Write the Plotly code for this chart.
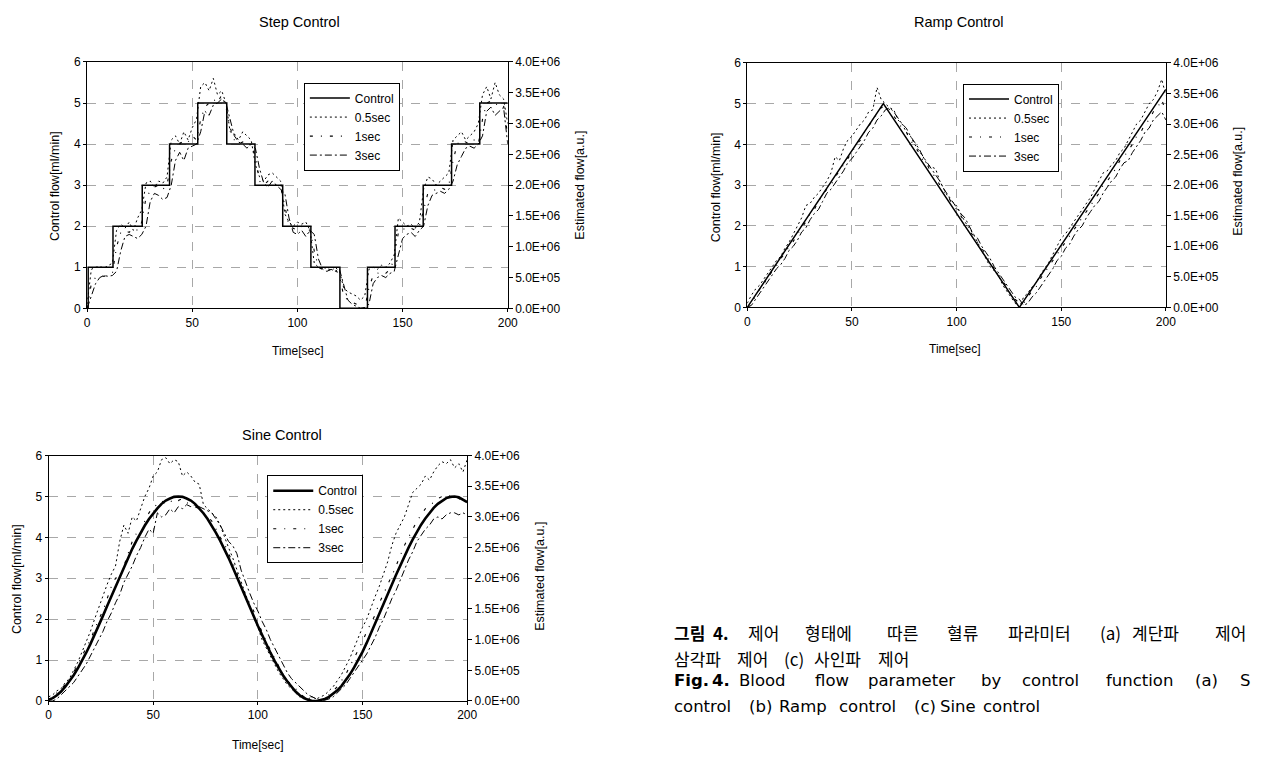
import plotly.graph_objects as go

# ---------------- data ----------------
T = list(range(0, 201, 2))  # time samples [sec] of the estimated series

# Step control
step_ctrl_t = [0, 0.5, 12.3, 26.2, 39.2, 52.6, 66.4, 79.8, 93.0, 106.4, 120.2, 133.3, 146.4, 159.8, 173.3, 186.7, 200]
step_ctrl_v = [0, 1, 2, 3, 4, 5, 4, 3, 2, 1, 0, 1, 2, 3, 4, 5, 5]
step_05 = [0.1, 0.95, 1.0, 1.02, 0.98, 1.05, 1.1, 1.9, 2.05, 1.95,
           2.1, 1.9, 2.2, 2.4, 3.05, 3.1, 2.95, 3.1, 3.05, 3.2,
           4.1, 4.2, 4.0, 4.3, 4.1, 4.4, 4.6, 5.4, 5.5, 5.3,
           5.6, 5.2, 5.3, 5.0, 4.3, 4.25, 4.1, 4.3, 4.2, 4.1,
           3.5, 3.2, 3.1, 3.25, 3.3, 3.2, 3.1, 2.3, 2.1, 2.0,
           2.1, 2.05, 2.1, 1.9, 1.1, 1.0, 0.95, 1.0, 0.9, 1.0,
           0.9, 0.5, 0.4, 0.35, 0.3, 0.2, 0.3, 0.95, 1.0, 0.95,
           1.05, 1.0, 1.1, 1.3, 2.2, 2.1, 2.0, 2.05, 1.95, 2.1,
           2.9, 3.2, 3.15, 3.0, 3.1, 3.2, 3.3, 4.1, 4.2, 4.3,
           4.1, 4.2, 4.3, 4.5, 5.2, 5.4, 5.1, 5.5, 5.2, 5.1,
           4.5]
step_1 = [0.0, 0.6, 0.75, 0.8, 0.78, 0.82, 0.85, 1.5, 1.85, 1.9,
          1.85, 1.95, 1.9, 2.1, 2.7, 2.85, 2.95, 3.0, 2.9, 3.0,
          3.6, 3.9, 4.0, 4.1, 4.05, 4.2, 4.1, 4.6, 4.9, 5.0,
          5.1, 5.0, 5.2, 4.9, 4.4, 4.1, 4.0, 4.05, 3.95, 4.0,
          3.7, 3.1, 3.0, 3.1, 3.05, 3.0, 2.95, 2.5, 2.0, 1.95,
          1.9, 2.0, 1.95, 1.9, 1.4, 1.0, 0.95, 0.9, 1.0, 0.95,
          0.8, 0.3, 0.2, 0.15, 0.1, 0.05, 0.0, 0.5, 0.8, 0.85,
          0.9, 0.85, 0.95, 1.2, 1.85, 1.95, 1.9, 1.95, 1.9, 2.0,
          2.4, 2.8, 2.85, 2.9, 2.95, 2.9, 3.0, 3.6, 4.0, 4.1,
          4.05, 4.0, 4.1, 4.0, 4.6, 5.0, 5.05, 4.95, 5.0, 4.95,
          4.2]
step_3 = [0.0, 0.3, 0.6, 0.75, 0.8, 0.78, 0.8, 0.9, 1.4, 1.75,
          1.8, 1.75, 1.7, 1.8, 2.0, 2.6, 2.8, 2.75, 2.65, 2.7,
          3.0, 3.6, 3.8, 3.6, 3.9, 3.95, 4.0, 4.3, 4.8, 4.7,
          4.95, 5.0, 5.1, 5.0, 4.6, 4.2, 4.05, 4.0, 3.9, 4.0,
          3.9, 3.4, 3.05, 2.95, 3.1, 3.0, 2.9, 2.8, 2.2, 1.85,
          1.8, 1.9, 1.75, 1.9, 1.8, 1.2, 0.95, 0.9, 0.95, 0.9,
          0.95, 0.6, 0.2, 0.1, 0.05, 0.0, 0.02, 0.1, 0.6, 0.75,
          0.8, 0.75, 0.85, 0.9, 1.3, 1.7, 1.8, 1.85, 1.75, 1.9,
          2.0, 2.5, 2.75, 2.8, 2.85, 2.8, 2.9, 3.1, 3.5, 3.7,
          3.9, 3.95, 3.9, 4.0, 4.2, 4.8, 4.9, 4.7, 4.8, 4.9,
          4.0]

# Ramp control
ramp_ctrl_t = [0, 65, 130, 200]
ramp_ctrl_v = [0, 5, 0, 5.35]
ramp_05 = [0.1, 0.3, 0.45, 0.55, 0.7, 0.85, 1.0, 1.15, 1.25, 1.45,
           1.6, 1.8, 2.0, 2.2, 2.5, 2.55, 2.7, 2.8, 2.95, 3.1,
           3.3, 3.7, 3.6, 3.9, 4.1, 4.2, 4.35, 4.5, 4.6, 4.8,
           4.85, 5.4, 5.1, 5.0, 4.9, 4.85, 4.6, 4.5, 4.3, 4.2,
           4.0, 3.85, 3.7, 3.5, 3.45, 3.4, 3.1, 2.9, 2.7, 2.6,
           2.5, 2.3, 2.1, 1.95, 1.8, 1.6, 1.4, 1.2, 1.0, 0.9,
           0.8, 0.55, 0.4, 0.25, 0.1, 0.0, 0.25, 0.35, 0.5, 0.6,
           0.8, 0.95, 1.1, 1.3, 1.5, 1.7, 1.8, 1.95, 2.1, 2.25,
           2.4, 2.55, 2.7, 2.9, 3.1, 3.3, 3.35, 3.5, 3.6, 3.8,
           3.9, 4.1, 4.3, 4.5, 4.6, 4.8, 5.0, 5.1, 5.3, 5.6,
           5.2]
ramp_1 = [0.0, 0.12, 0.28, 0.45, 0.58, 0.72, 0.9, 1.02, 1.2, 1.32,
          1.5, 1.62, 1.8, 1.95, 2.1, 2.3, 2.4, 2.6, 2.75, 2.9,
          3.0, 3.2, 3.35, 3.5, 3.65, 3.8, 4.0, 4.1, 4.3, 4.45,
          4.6, 4.75, 4.9, 4.95, 4.85, 4.7, 4.55, 4.4, 4.3, 4.1,
          3.95, 3.8, 3.6, 3.5, 3.3, 3.2, 3.0, 2.85, 2.7, 2.55,
          2.4, 2.25, 2.1, 1.9, 1.75, 1.6, 1.45, 1.3, 1.1, 0.95,
          0.8, 0.65, 0.5, 0.3, 0.2, 0.1, 0.1, 0.25, 0.4, 0.5,
          0.7, 0.85, 1.0, 1.15, 1.3, 1.45, 1.6, 1.75, 1.9, 2.05,
          2.2, 2.35, 2.5, 2.65, 2.8, 3.0, 3.1, 3.25, 3.4, 3.6,
          3.7, 3.85, 4.0, 4.2, 4.3, 4.5, 4.6, 4.8, 4.9, 5.1,
          4.8]
ramp_3 = [0.0, 0.05, 0.2, 0.35, 0.5, 0.62, 0.8, 0.95, 1.05, 1.2,
          1.4, 1.5, 1.65, 1.85, 1.95, 2.15, 2.3, 2.4, 2.6, 2.8,
          2.9, 3.05, 3.2, 3.35, 3.55, 3.65, 3.8, 3.95, 4.1, 4.3,
          4.4, 4.6, 4.7, 4.85, 4.9, 4.8, 4.65, 4.5, 4.4, 4.2,
          4.05, 3.9, 3.7, 3.55, 3.4, 3.25, 3.1, 2.9, 2.75, 2.6,
          2.45, 2.3, 2.2, 2.0, 1.8, 1.7, 1.5, 1.35, 1.2, 1.0,
          0.85, 0.7, 0.55, 0.4, 0.25, 0.2, 0.05, 0.1, 0.25, 0.35,
          0.5, 0.65, 0.8, 0.95, 1.15, 1.25, 1.45, 1.55, 1.75, 1.9,
          2.0, 2.2, 2.35, 2.5, 2.6, 2.8, 2.95, 3.1, 3.2, 3.4,
          3.55, 3.6, 3.8, 3.95, 4.1, 4.3, 4.4, 4.6, 4.7, 4.8,
          4.6]

# Sine control
sine_ctrl = [0.03, 0.07, 0.14, 0.23, 0.35, 0.48, 0.63, 0.8, 0.98, 1.18,
             1.39, 1.61, 1.84, 2.08, 2.32, 2.56, 2.8, 3.04, 3.27, 3.5,
             3.72, 3.92, 4.11, 4.29, 4.45, 4.59, 4.71, 4.82, 4.9, 4.95,
             4.99, 5.0, 4.99, 4.95, 4.9, 4.82, 4.71, 4.59, 4.45, 4.29,
             4.11, 3.92, 3.72, 3.5, 3.27, 3.04, 2.8, 2.56, 2.32, 2.08,
             1.84, 1.61, 1.39, 1.18, 0.98, 0.8, 0.63, 0.48, 0.35, 0.23,
             0.14, 0.07, 0.03, 0.0, 0.0, 0.02, 0.05, 0.1, 0.17, 0.26,
             0.37, 0.5, 0.65, 0.82, 1.0, 1.2, 1.42, 1.65, 1.88, 2.12,
             2.36, 2.6, 2.84, 3.08, 3.31, 3.54, 3.75, 3.95, 4.14, 4.31,
             4.46, 4.6, 4.72, 4.82, 4.9, 4.96, 4.99, 5.0, 4.98, 4.93,
             4.86]
sine_05 = [0.1, 0.15, 0.25, 0.3, 0.45, 0.55, 0.75, 0.95, 1.2, 1.45,
           1.7, 2.0, 2.3, 2.6, 2.85, 3.1, 3.3, 3.9, 4.3, 4.1,
           4.5, 4.4, 4.7, 5.0, 5.2, 5.5, 5.6, 5.9, 5.95, 5.8,
           5.9, 5.85, 5.5, 5.6, 5.5, 5.35, 5.3, 4.8, 4.7, 4.6,
           4.5, 4.3, 4.0, 3.75, 3.5, 3.2, 2.9, 2.6, 2.3, 2.05,
           1.8, 1.5, 1.3, 1.1, 0.9, 0.7, 0.55, 0.4, 0.3, 0.2,
           0.1, 0.1, 0.05, 0.1, 0.05, 0.1, 0.15, 0.25, 0.35, 0.5,
           0.65, 0.85, 1.05, 1.3, 1.55, 1.8, 2.0, 2.3, 2.55, 2.8,
           3.1, 3.4, 3.8, 4.1, 4.3, 4.5, 4.8, 5.1, 5.2, 5.3,
           5.5, 5.4, 5.6, 5.75, 5.85, 5.8, 5.9, 5.7, 5.8, 5.6,
           5.9]
sine_1 = [0.0, 0.1, 0.2, 0.3, 0.4, 0.5, 0.7, 0.9, 1.1, 1.3,
          1.5, 1.75, 2.0, 2.2, 2.5, 2.8, 3.0, 3.05, 3.3, 3.6,
          3.9, 4.1, 4.05, 4.4, 4.6, 4.75, 4.8, 4.9, 4.8, 4.85,
          4.95, 4.9, 4.95, 4.85, 4.8, 4.75, 4.7, 4.6, 4.5, 4.4,
          4.2, 4.0, 3.85, 3.6, 3.4, 3.1, 2.85, 2.6, 2.4, 2.2,
          1.9, 1.7, 1.45, 1.25, 1.05, 0.85, 0.65, 0.5, 0.4, 0.3,
          0.2, 0.1, 0.05, 0.1, 0.05, 0.0, 0.1, 0.15, 0.25, 0.35,
          0.5, 0.65, 0.85, 1.05, 1.25, 1.45, 1.7, 1.9, 2.1, 2.4,
          2.6, 2.85, 3.05, 3.3, 3.55, 3.8, 4.0, 4.2, 4.4, 4.55,
          4.7, 4.8, 4.85, 4.95, 5.0, 5.05, 5.0, 5.0, 4.95, 4.9,
          4.85]
sine_3 = [0.0, 0.0, 0.05, 0.15, 0.25, 0.35, 0.45, 0.6, 0.75, 0.9,
          1.1, 1.3, 1.5, 1.7, 1.95, 2.15, 2.4, 2.6, 2.9, 3.1,
          3.3, 3.55, 3.75, 4.0, 4.2, 4.1, 4.6, 4.5, 4.55, 4.7,
          4.6, 4.75, 4.7, 4.8, 4.75, 4.8, 4.75, 4.7, 4.65, 4.6,
          4.45, 4.3, 4.1, 3.9, 3.8, 3.6, 3.2, 2.9, 2.65, 2.4,
          2.2, 1.95, 1.75, 1.5, 1.3, 1.1, 0.9, 0.7, 0.55, 0.45,
          0.35, 0.25, 0.15, 0.1, 0.05, 0.0, 0.02, 0.05, 0.1, 0.2,
          0.3, 0.4, 0.55, 0.7, 0.85, 1.0, 1.15, 1.35, 1.55, 1.8,
          2.0, 2.25, 2.5, 2.7, 2.95, 3.2, 3.45, 3.65, 3.9, 4.05,
          4.2, 4.3, 4.45, 4.5, 4.45, 4.55, 4.6, 4.6, 4.55, 4.6,
          4.55]

series_names = ["Control", "0.5sec", "1sec", "3sec"]
x_ticks = [0, 50, 100, 150, 200]
left_ticks = [0, 1, 2, 3, 4, 5, 6]
right_tickvals = [0, 5e5, 1e6, 1.5e6, 2e6, 2.5e6, 3e6, 3.5e6, 4e6]
right_ticktext = ["0.0E+00", "5.0E+05", "1.0E+06", "1.5E+06", "2.0E+06",
                  "2.5E+06", "3.0E+06", "3.5E+06", "4.0E+06"]
AU_PER_FLOW = 4.0e6 / 6.0  # right axis full scale (4.0E+06) matches 6 ml/min

# ---------------- figure ----------------
W, H = 1261, 760
FONT = "Liberation Sans, Arial, sans-serif"
fig = go.Figure()

def px_x(p):
    return p / W

def px_y(p):
    return 1 - p / H

charts = [
    dict(xa="x", ya="y", ya2="y2", ax="xaxis", ay="yaxis", ay2="yaxis2", legend="legend",
         box=(85, 510, 56, 307), leg=(304, 77), ctrl_w=1.5,
         ctrl=(step_ctrl_t, step_ctrl_v, "hv"), est=(step_05, step_1, step_3)),
    dict(xa="x2", ya="y3", ya2="y4", ax="xaxis2", ay="yaxis3", ay2="yaxis4", legend="legend2",
         box=(752, 1175, 57, 306), leg=(970, 78), ctrl_w=1.5,
         ctrl=(ramp_ctrl_t, ramp_ctrl_v, "linear"), est=(ramp_05, ramp_1, ramp_3)),
    dict(xa="x3", ya="y5", ya2="y6", ax="xaxis3", ay="yaxis5", ay2="yaxis6", legend="legend3",
         box=(46, 469, 457, 707), leg=(267, 477), ctrl_w=2.6,
         ctrl=(T, sine_ctrl, "linear"), est=(sine_05, sine_1, sine_3)),
]

est_dash = ["2px,3px", "3px,8px,1px,8px", "7px,3px,2px,3px"]
est_width = [1.0, 1.1, 1.0]

layout = dict(width=W, height=H, margin=dict(l=0, r=0, t=0, b=0),
              paper_bgcolor="white", plot_bgcolor="white",
              font=dict(family=FONT, color="black", size=12), showlegend=True)

for c in charts:
    ct, cv, shape = c["ctrl"]
    fig.add_trace(go.Scatter(x=ct, y=cv, mode="lines", name=series_names[0],
                             line=dict(color="black", width=c["ctrl_w"], shape=shape),
                             xaxis=c["xa"], yaxis=c["ya"], legend=c["legend"]))
    for i, vals in enumerate(c["est"]):
        fig.add_trace(go.Scatter(x=T, y=[v * AU_PER_FLOW for v in vals], mode="lines",
                                 name=series_names[i + 1],
                                 line=dict(color="black", width=est_width[i], dash=est_dash[i]),
                                 xaxis=c["xa"], yaxis=c["ya2"], legend=c["legend"]))
    l, r, t, b = c["box"]
    grid = dict(showgrid=True, gridcolor="#a8a8a8", griddash="dash", gridwidth=0.7)
    layout[c["ax"]] = dict(domain=[px_x(l), px_x(r)], range=[0, 200], tickvals=x_ticks,
                           showline=True, linecolor="black", linewidth=1, mirror=True,
                           ticks="outside", ticklen=3, tickcolor="black",
                           zeroline=False, anchor=c["ya"], tickfont=dict(size=12), **grid)
    layout[c["ay"]] = dict(domain=[px_y(b), px_y(t)], range=[0, 6], tickvals=left_ticks,
                           showline=True, linecolor="black", linewidth=1, mirror=True,
                           ticks="outside", ticklen=3, tickcolor="black",
                           zeroline=False, anchor=c["xa"], tickfont=dict(size=12), **grid)
    layout[c["ay2"]] = dict(overlaying=c["ya"], side="right", anchor=c["xa"], range=[0, 4e6],
                            tickvals=right_tickvals, ticktext=right_ticktext,
                            showgrid=False, zeroline=False, showline=False,
                            ticks="outside", ticklen=4, tickcolor="black",
                            tickfont=dict(size=12))
    lx, ly = c["leg"]
    layout[c["legend"]] = dict(x=px_x(lx), y=px_y(ly), xanchor="left", yanchor="top",
                               bgcolor="white", bordercolor="black", borderwidth=1,
                               font=dict(size=12, family=FONT), itemwidth=40,
                               tracegroupgap=0)

fig.update_layout(**layout)

ann = []
def text(x, y, s, size=12, angle=0, xanchor="center", family=FONT, bold=False):
    ann.append(dict(x=px_x(x), y=px_y(y), xref="paper", yref="paper", text=(f"<b>{s}</b>" if bold else s),
                    showarrow=False, textangle=angle, xanchor=xanchor, yanchor="middle",
                    font=dict(size=size, family=family, color="black")))

# chart titles
text(300, 15, "Step Control", size=14.5)
text(965, 15, "Ramp Control", size=14.5)
text(282, 436, "Sine Control", size=14.5)
# axis titles
text(298, 350, "Time[sec]")
text(962, 348, "Time[sec]")
text(258, 752, "Time[sec]")
text(52, 182, "Control flow[ml/min]", angle=-90, size=12.5)
text(720, 184, "Control flow[ml/min]", angle=-90, size=12.5)
text(14, 583, "Control flow[ml/min]", angle=-90, size=12.5)
text(583, 181, "Estimated flow[a.u.]", angle=-90, size=12.5)
text(1248, 178, "Estimated flow[a.u.]", angle=-90, size=12.5)
text(543, 580, "Estimated flow[a.u.]", angle=-90, size=12.5)

# caption
KR = "Noto Sans CJK KR, sans-serif"
EN = "DejaVu Sans, sans-serif"
line1 = [(676, "그림", True), (715, "4.", True), (751, "제어", False), (808, "형태에", False),
         (891, "따른", False), (952, "혈류", False), (1013, "파라미터", False), (1106, "(a)", False),
         (1139, "계단파", False), (1223, "제어", False)]
for x, s, b in line1:
    text(x, 637, s, size=17, xanchor="left", family=KR, bold=b)
line2 = [(676, "삼각파"), (740, "제어"), (787, "(c)"), (817, "사인파"), (882, "제어")]
for x, s in line2:
    text(x, 664, s, size=17, xanchor="left", family=KR)
line3 = [(676, "Fig.", True), (714, "4.", True), (742, "Blood", False), (818, "flow", False),
         (872, "parameter", False), (986, "by", False), (1028, "control", False),
         (1112, "function", False), (1202, "(a)", False), (1248, "S", False)]
for x, s, b in line3:
    text(x, 686, s, size=16.5, xanchor="left", family=EN, bold=b)
line4 = [(676, "control"), (752, "(b)"), (782, "Ramp"), (843, "control"), (918, "(c)"),
         (945, "Sine"), (988, "control")]
for x, s in line4:
    text(x, 713, s, size=16.5, xanchor="left", family=EN)

fig.update_layout(annotations=ann)
fig.write_html("out.html", config={"displayModeBar": False},
               post_script="document.body.style.margin='0px';document.body.style.overflow='hidden';")
